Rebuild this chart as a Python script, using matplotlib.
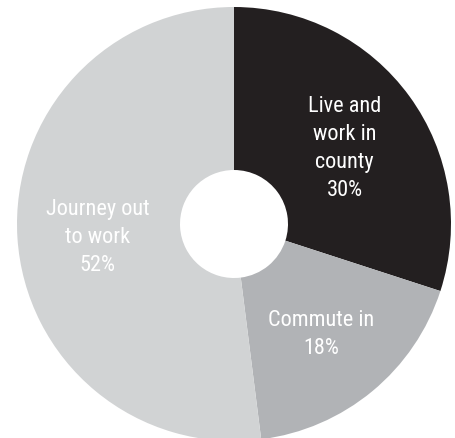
import numpy as np
import matplotlib
matplotlib.use("Agg")
import matplotlib.pyplot as plt
from matplotlib import font_manager

labels = ["Live and\nwork in\ncounty\n30%", "Commute in\n18%", "Journey out\nto work\n52%"]
values = [30, 18, 52]
colors = ["#231f20", "#b1b3b6", "#d1d3d4"]

names = {f.name for f in font_manager.fontManager.ttflist}
fam = "Roboto"
for cand in ["Roboto Condensed", "Liberation Sans Narrow", "Open Sans Condensed"]:
    if cand in names:
        fam = cand
        break

W, H = 455, 439
fig = plt.figure(figsize=(W / 100, H / 100), dpi=100)
ax = fig.add_axes([0, 0, 1, 1])

cx, cy = 234, H - 225
R, r_hole = 217, 54
wedges, _ = ax.pie(values, colors=colors, startangle=90, counterclock=False,
                   radius=R, center=(cx, cy), frame=True,
                   wedgeprops=dict(width=R - r_hole, linewidth=0))
ax.set_xlim(0, W)
ax.set_ylim(0, H)
ax.set_aspect("equal")
ax.axis("off")

for w, lab in zip(wedges, labels):
    ang = np.deg2rad((w.theta1 + w.theta2) / 2)
    rr = 0.63 * R
    ax.text(cx + rr * np.cos(ang), cy + rr * np.sin(ang) - 4, lab, color="white",
            ha="center", va="center", fontsize=16, family=fam,
            linespacing=1.45, multialignment="center")

fig.savefig("out.png", dpi=100)
